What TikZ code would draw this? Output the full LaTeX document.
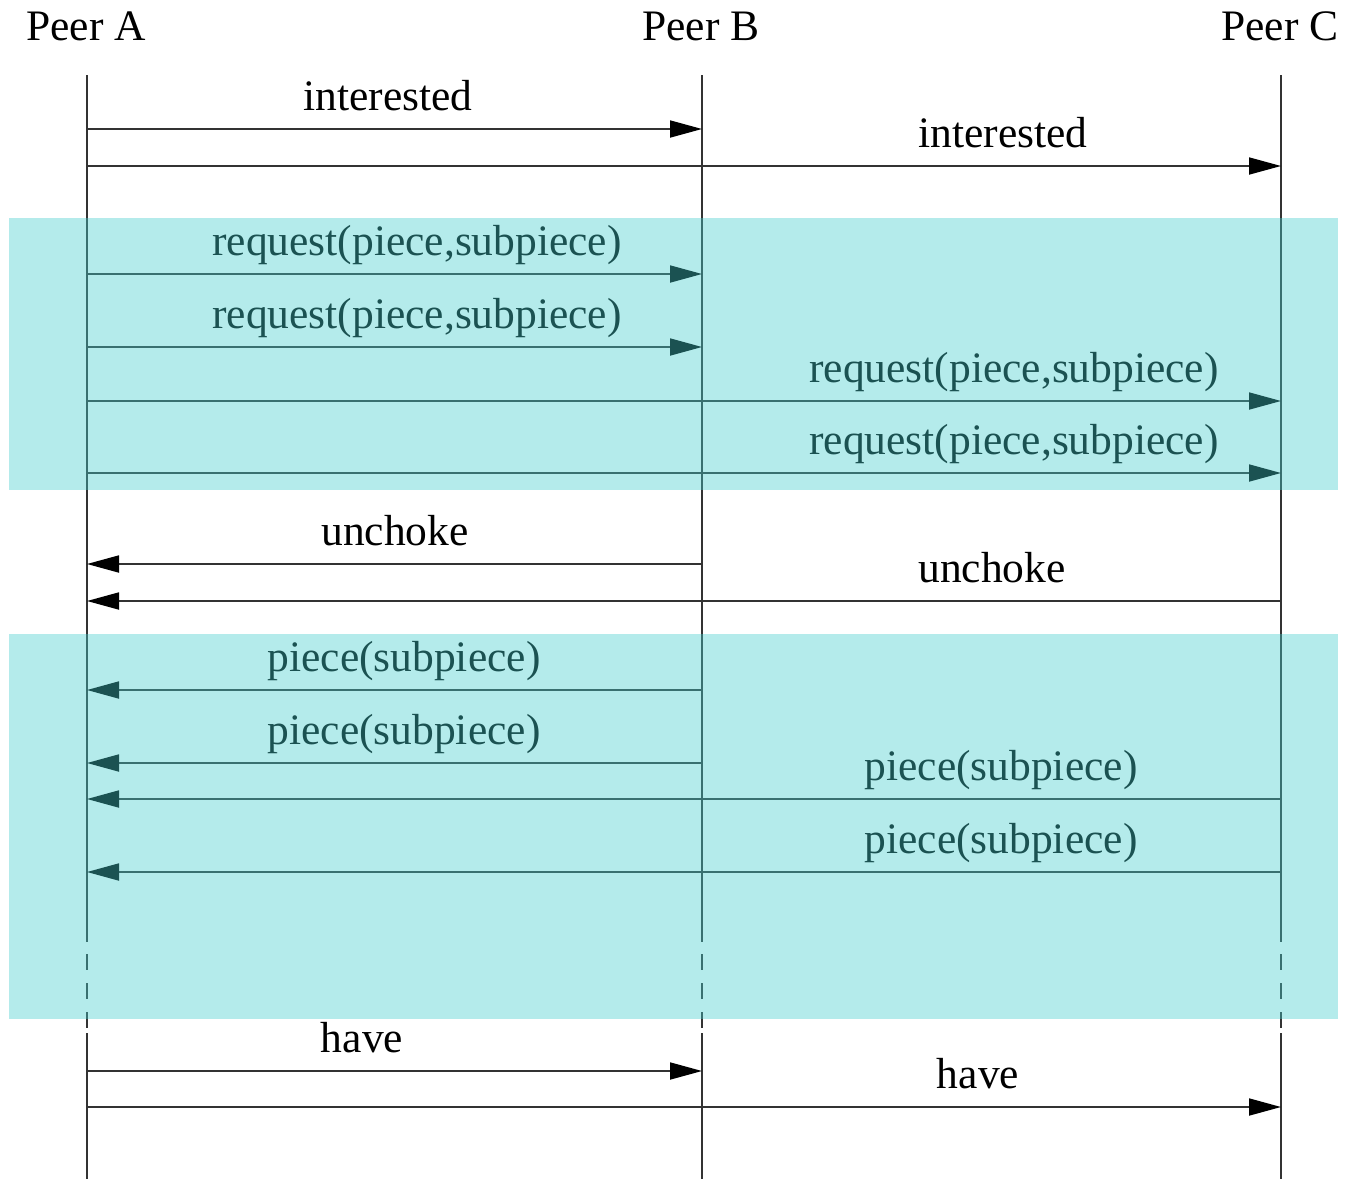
\documentclass[tikz,border=0pt]{standalone}
\usepackage{fontspec}
\setmainfont{Liberation Serif}
\usetikzlibrary{positioning, arrows.meta}

\begin{document}
\begin{tikzpicture}[x=0.5pt, y=-0.5pt, line width=0.9pt,
    msg/.style={draw=black!80, -{Triangle[length=16pt, width=8.5pt, black]}},
    lbl/.style={anchor=base, font=\fontsize{21.75}{26}\selectfont},
    peer/.style={anchor=base, font=\fontsize{21.75}{26}\selectfont},
    band/.style={fill={rgb,255:red,68;green,205;blue,205}, fill opacity=0.4}]
    \useasboundingbox (0,0) rectangle (1345,1179);

    % Peers
    \node[peer] (peerA) at (86,40) {Peer A};
    \node[peer] (peerB) at (701,40) {Peer B};
    \node[peer] (peerC) at (1280,40) {Peer C};

    % Lifelines
    \foreach \p/\x in {A/87, B/702, C/1281} {
        \coordinate (top\p) at (\x,75);
        \coordinate (gap\p) at (\x,942);
        \coordinate (end\p) at (\x,1033);
        \coordinate (bot\p) at (\x,1179);
        \draw[black!80] (top\p) -- (gap\p);
        \draw[black!80, dash pattern=on 8pt off 6.5pt, dash phase=8.5pt] (gap\p) -- (end\p);
        \draw[black!80] (end\p) -- (bot\p);
    }

    % Messages
    \foreach \i/\from/\to/\y/\lx/\txt in {
        1/A/B/129/388/interested,
        2/A/C/166/1003/interested,
        3/A/B/274/417/{request(piece,subpiece)},
        4/A/B/347/417/{request(piece,subpiece)},
        5/A/C/401/1014/{request(piece,subpiece)},
        6/A/C/473/1014/{request(piece,subpiece)},
        7/B/A/564/395/unchoke,
        8/C/A/601/992/unchoke,
        9/B/A/690/404/{piece(subpiece)},
        10/B/A/763/404/{piece(subpiece)},
        11/C/A/799/1001/{piece(subpiece)},
        12/C/A/872/1001/{piece(subpiece)},
        13/A/B/1071/362/have,
        14/A/C/1107/978/have} {
        \coordinate (s\i) at (top\from |- 0,\y);
        \coordinate (t\i) at (top\to |- 0,\y);
        \draw[msg] (s\i) -- (t\i);
        \node[lbl] (l\i) at (\lx,\y-19) {\txt};
    }

    % Shaded phases
    \fill[band] (9,218) rectangle (1338,490);
    \fill[band] (9,634) rectangle (1338,1019);
\end{tikzpicture}
\end{document}
